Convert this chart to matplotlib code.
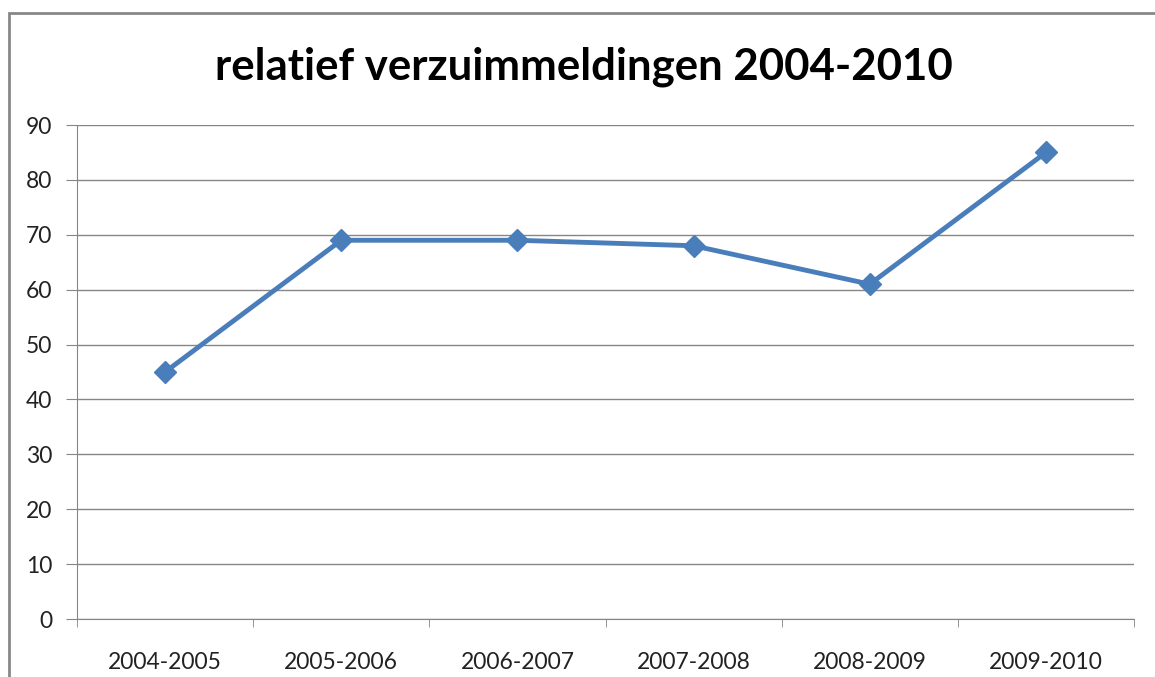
import matplotlib.pyplot as plt
import matplotlib.patches as mpatches

# gegevens
jaren = ["2004-2005", "2005-2006", "2006-2007", "2007-2008", "2008-2009", "2009-2010"]
meldingen = [45, 69, 69, 68, 61, 85]
y_ticks = [0, 10, 20, 30, 40, 50, 60, 70, 80, 90]

plt.rcParams['font.family'] = ['Lato', 'DejaVu Sans']

fig = plt.figure(figsize=(11.55, 6.77), dpi=100)
W, H = 1155, 677

# kader rond de grafiek (rechts en onder valt buiten beeld)
fig.patches.append(mpatches.Rectangle((9 / W, -0.1), 1.2, 1 - 13 / H + 0.1,
                                      transform=fig.transFigure, fill=False,
                                      edgecolor="#878787", linewidth=2))

ax = fig.add_axes([77 / W, 1 - 619 / H, (1134 - 77) / W, (619 - 125) / H])

x = range(len(jaren))
ax.plot(x, meldingen, color="#4A7EBB", linewidth=3.5, marker="D",
        markersize=11.5, zorder=3, clip_on=False)

ax.set_xlim(-0.5, len(jaren) - 0.5)
ax.set_ylim(0, 90)
ax.set_yticks(y_ticks)
ax.set_xticks(list(x))
ax.set_xticklabels(jaren)
ax.set_xticks([i - 0.5 for i in range(len(jaren) + 1)], minor=True)

ax.grid(axis="y", color="#868686", linewidth=1)
ax.set_axisbelow(True)
for s in ["top", "right"]:
    ax.spines[s].set_visible(False)
ax.spines["left"].set_color("#868686")
ax.spines["bottom"].set_color("#868686")

ax.tick_params(axis="y", length=8, color="#868686", labelsize=16.5, pad=10, labelcolor="#222222")
ax.tick_params(axis="x", which="major", length=0, labelsize=16.5, pad=24, labelcolor="#222222")
ax.tick_params(axis="x", which="minor", length=6, color="#868686")

fig.text(584 / W, 1 - 67 / H, "relatief verzuimmeldingen 2004-2010",
         ha="center", va="center", fontsize=31.5, fontweight="bold")

fig.savefig("out.png", dpi=100)
